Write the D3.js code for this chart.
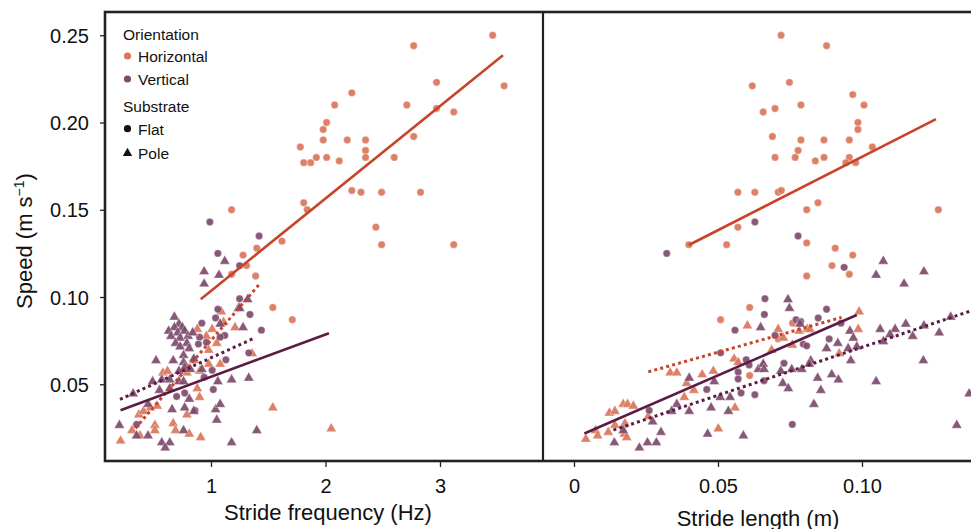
<!DOCTYPE html>
<html><head><meta charset="utf-8">
<script src="https://cdn.jsdelivr.net/npm/d3@7"></script>
<style>body{margin:0;background:#fff}svg{display:block}text{font-family:"Liberation Sans",Arial,Helvetica,sans-serif;fill:#111}</style>
</head><body><svg id="c" width="971" height="529"></svg>
<script>
// ---- tick labels ----
const speedTicks = [0.05, 0.10, 0.15, 0.20, 0.25];
const freqTicks = [1, 2, 3];
const lenTicks = [0, 0.05, 0.10];

// ---- stride frequency (Hz) vs speed ----
const freqHorizFlat = [[3.46,0.250],[2.77,0.244],[2.97,0.223],[3.56,0.221],[2.23,0.217],[2.08,0.210],[2.71,0.210],[2.97,0.208],[3.12,0.206],[2.01,0.200],[1.98,0.196],[1.98,0.190],[2.19,0.190],[2.35,0.190],[2.77,0.192],[1.78,0.186],[2.35,0.184],[1.81,0.177],[1.87,0.177],[1.92,0.180],[2.01,0.180],[2.12,0.178],[2.35,0.180],[2.60,0.180],[1.81,0.154],[1.84,0.150],[2.23,0.161],[2.31,0.160],[2.49,0.160],[2.83,0.160],[2.44,0.140],[2.49,0.130],[3.12,0.130],[1.18,0.150],[1.62,0.132],[1.40,0.128],[1.28,0.124],[1.31,0.118],[1.18,0.113],[1.39,0.112],[1.54,0.094],[1.71,0.087]];
const freqHorizPole = [[1.09,0.092],[1.11,0.086],[1.21,0.083],[0.88,0.082],[0.96,0.078],[1.01,0.082],[1.05,0.074],[0.98,0.070],[1.36,0.068],[1.08,0.062],[0.98,0.062],[0.85,0.064],[0.90,0.058],[0.58,0.057],[0.62,0.058],[0.79,0.057],[0.88,0.048],[0.90,0.043],[0.53,0.038],[0.47,0.037],[0.37,0.033],[0.41,0.035],[0.79,0.033],[0.67,0.028],[0.51,0.027],[0.31,0.024],[0.38,0.021],[0.51,0.024],[0.69,0.024],[0.81,0.022],[0.91,0.020],[0.21,0.018],[1.54,0.037],[2.05,0.025]];
const freqVertFlat = [[0.99,0.143],[1.42,0.135],[1.06,0.125],[1.25,0.118],[1.25,0.099],[1.06,0.093],[1.34,0.090],[1.04,0.088],[0.92,0.085],[1.44,0.081],[0.90,0.077],[0.89,0.073],[0.96,0.074],[1.12,0.078],[1.08,0.077],[1.33,0.068],[1.13,0.064],[1.01,0.058],[0.94,0.054],[1.02,0.047],[0.77,0.045],[0.70,0.043],[0.86,0.035],[0.35,0.027]];
const freqVertPole = [[1.12,0.121],[0.94,0.115],[1.07,0.113],[0.94,0.108],[1.32,0.099],[1.24,0.094],[0.68,0.089],[1.28,0.083],[0.72,0.085],[0.68,0.083],[0.75,0.083],[0.63,0.081],[0.71,0.080],[0.65,0.078],[0.77,0.081],[0.73,0.077],[0.80,0.078],[0.84,0.080],[0.69,0.074],[0.79,0.074],[0.73,0.072],[0.81,0.071],[0.76,0.067],[0.85,0.065],[0.92,0.059],[1.08,0.085],[1.25,0.094],[0.52,0.064],[0.67,0.064],[0.76,0.063],[0.77,0.060],[0.72,0.058],[0.82,0.059],[0.49,0.052],[0.57,0.053],[0.64,0.053],[0.72,0.052],[0.76,0.052],[1.06,0.052],[1.18,0.053],[1.33,0.054],[0.32,0.045],[0.55,0.047],[0.64,0.048],[0.81,0.042],[0.45,0.039],[0.66,0.036],[0.77,0.037],[0.85,0.035],[1.04,0.036],[1.08,0.039],[1.05,0.030],[0.20,0.027],[0.35,0.021],[0.45,0.021],[0.76,0.024],[0.57,0.017],[0.64,0.017],[0.60,0.014],[1.18,0.017],[1.40,0.024]];

// ---- stride length (m) vs speed ----
const lenHorizFlat = [[0.0619,0.221],[0.0657,0.206],[0.0569,0.160],[0.0628,0.160],[0.0569,0.140],[0.0719,0.250],[0.0877,0.244],[0.0748,0.223],[0.0968,0.216],[0.1007,0.210],[0.0698,0.208],[0.0788,0.210],[0.0986,0.200],[0.0986,0.196],[0.0689,0.192],[0.0788,0.190],[0.0868,0.190],[0.0956,0.190],[0.0778,0.184],[0.1036,0.186],[0.0698,0.180],[0.0768,0.180],[0.0868,0.180],[0.0956,0.180],[0.0838,0.178],[0.0944,0.177],[0.0978,0.177],[0.0709,0.160],[0.0720,0.161],[0.0847,0.154],[0.0808,0.150],[0.1265,0.150],[0.0399,0.130],[0.0530,0.130],[0.0808,0.131],[0.0907,0.128],[0.0968,0.124],[0.0896,0.118],[0.0956,0.113],[0.0808,0.112],[0.0610,0.094],[0.0509,0.087],[0.0610,0.055],[0.0709,0.076],[0.0759,0.085]];
const lenHorizPole = [[0.0602,0.084],[0.0556,0.065],[0.0570,0.063],[0.0657,0.062],[0.0334,0.057],[0.0357,0.057],[0.0445,0.056],[0.0484,0.058],[0.0391,0.051],[0.0416,0.047],[0.0559,0.037],[0.0383,0.043],[0.0171,0.039],[0.0186,0.039],[0.0206,0.038],[0.0123,0.034],[0.0142,0.035],[0.0258,0.032],[0.0177,0.028],[0.0075,0.024],[0.0119,0.023],[0.0142,0.027],[0.0082,0.021],[0.0041,0.019],[0.0175,0.022],[0.0183,0.020],[0.0501,0.025],[0.0709,0.082],[0.0727,0.077],[0.0782,0.081],[0.0810,0.082],[0.0819,0.082],[0.0990,0.092],[0.0987,0.082],[0.0758,0.073],[0.0686,0.070],[0.0921,0.068]];
const lenVertFlat = [[0.0628,0.143],[0.0778,0.135],[0.0322,0.125],[0.0938,0.117],[0.0663,0.099],[0.0661,0.090],[0.0559,0.081],[0.0509,0.068],[0.0598,0.064],[0.0608,0.061],[0.0570,0.057],[0.0570,0.053],[0.0461,0.047],[0.0580,0.045],[0.0628,0.044],[0.0261,0.035],[0.0877,0.093],[0.0698,0.078],[0.0771,0.087],[0.0787,0.086],[0.0848,0.088],[0.0927,0.085],[0.0886,0.076],[0.0796,0.073],[0.0808,0.072],[0.0729,0.062],[0.0660,0.052],[0.0758,0.027]];
const lenVertPole = [[0.0648,0.083],[0.0640,0.059],[0.0400,0.054],[0.0487,0.052],[0.0508,0.043],[0.0542,0.043],[0.0476,0.037],[0.0536,0.035],[0.0400,0.035],[0.0357,0.039],[0.0339,0.035],[0.0273,0.029],[0.0171,0.024],[0.0140,0.017],[0.0302,0.023],[0.0227,0.014],[0.0255,0.017],[0.0286,0.017],[0.0464,0.022],[0.0588,0.021],[0.1074,0.121],[0.1049,0.113],[0.1215,0.115],[0.1146,0.108],[0.0743,0.099],[0.0748,0.094],[0.0785,0.085],[0.0958,0.081],[0.0970,0.077],[0.0916,0.074],[0.0877,0.071],[0.0952,0.071],[0.0982,0.072],[0.0961,0.064],[0.0822,0.064],[0.1063,0.082],[0.1115,0.082],[0.1097,0.079],[0.1074,0.075],[0.1152,0.085],[0.1176,0.078],[0.1215,0.084],[0.1268,0.080],[0.1308,0.089],[0.1213,0.064],[0.1049,0.052],[0.0657,0.062],[0.0660,0.059],[0.0718,0.058],[0.0756,0.059],[0.0791,0.059],[0.0817,0.062],[0.0846,0.054],[0.0895,0.056],[0.0918,0.053],[0.0725,0.051],[0.0744,0.048],[0.0857,0.047],[0.0833,0.039],[0.1329,0.027],[0.1372,0.045]];

// ---- fitted lines (endpoints) ----
const freqFits = [
  {orient:"H", sub:"Flat", pts:[[0.91,0.0987],[3.55,0.2385]]},
  {orient:"H", sub:"Pole", pts:[[0.34,0.0248],[1.43,0.1079]]},
  {orient:"V", sub:"Flat", pts:[[0.21,0.0351],[2.03,0.0792]]},
  {orient:"V", sub:"Pole", pts:[[0.205,0.0413],[1.38,0.0765]]}
];
const lenFits = [
  {orient:"H", sub:"Flat", pts:[[0.0399,0.1298],[0.1257,0.2019]]},
  {orient:"H", sub:"Pole", pts:[[0.0258,0.0571],[0.0929,0.0883]]},
  {orient:"V", sub:"Flat", pts:[[0.0036,0.0218],[0.0982,0.0897]]},
  {orient:"V", sub:"Pole", pts:[[0.0137,0.0237],[0.1450,0.0960]]}
];

const legendOrient = ["Horizontal", "Vertical"];
const legendSub = ["Flat", "Pole"];

// ---- styling ----
const ptColor = {H:"#d9765a", V:"#7d4a6c"};
const lineColor = {H:"#c8432a", V:"#5c1b45"};

const svg = d3.select("#c");
const topY = 12, bottomY = 461, leftX = 105, midX = 543, rightX = 990;

const y = d3.scaleLinear().domain([0, 0.25]).range([471.5, 35.25]);
const xF = d3.scaleLinear().domain([1, 3]).range([211, 440]);
const xL = d3.scaleLinear().domain([0, 0.10]).range([574, 862]);

svg.append("clipPath").attr("id","clipL").append("rect")
  .attr("x", leftX).attr("y", topY).attr("width", midX-leftX).attr("height", bottomY-topY);
svg.append("clipPath").attr("id","clipR").append("rect")
  .attr("x", midX).attr("y", topY).attr("width", rightX-midX).attr("height", bottomY-topY);

const tri = d3.symbol().type(d3.symbolTriangle).size(46);

function drawPoints(g, data, xs, orient, sub) {
  if (sub === "Flat") {
    g.selectAll(null).data(data).enter().append("circle")
      .attr("cx", d => xs(d[0])).attr("cy", d => y(d[1])).attr("r", 3.7)
      .attr("fill", ptColor[orient]).attr("fill-opacity", 0.92)
      .attr("stroke", "#fff").attr("stroke-opacity", 0.6).attr("stroke-width", 0.6);
  } else {
    g.selectAll(null).data(data).enter().append("path")
      .attr("d", tri).attr("transform", d => `translate(${xs(d[0])},${y(d[1])+0.8})`)
      .attr("fill", ptColor[orient]).attr("fill-opacity", 0.92)
      .attr("stroke", "#fff").attr("stroke-opacity", 0.6).attr("stroke-width", 0.6);
  }
}
function drawFits(g, fits, xs) {
  const line = d3.line().x(d => xs(d[0])).y(d => y(d[1]));
  fits.forEach(f => {
    g.append("path").attr("d", line(f.pts)).attr("fill","none")
      .attr("stroke", lineColor[f.orient])
      .attr("stroke-width", f.sub === "Flat" ? 2.6 : 3)
      .attr("stroke-dasharray", f.sub === "Flat" ? null : "3,3.2");
  });
}

const gL = svg.append("g").attr("clip-path","url(#clipL)");
drawPoints(gL, freqHorizFlat, xF, "H", "Flat");
drawPoints(gL, freqHorizPole, xF, "H", "Pole");
drawPoints(gL, freqVertFlat, xF, "V", "Flat");
drawPoints(gL, freqVertPole, xF, "V", "Pole");
drawFits(gL, freqFits, xF);

const gR = svg.append("g").attr("clip-path","url(#clipR)");
drawPoints(gR, lenHorizFlat, xL, "H", "Flat");
drawPoints(gR, lenHorizPole, xL, "H", "Pole");
drawPoints(gR, lenVertFlat, xL, "V", "Flat");
drawPoints(gR, lenVertPole, xL, "V", "Pole");
drawFits(gR, lenFits, xL);

// ---- axes ----
const yAxis = d3.axisLeft(y).tickValues(speedTicks).tickFormat(d3.format(".2f")).tickSize(5).tickPadding(11);
const gy = svg.append("g").attr("transform", `translate(${leftX},0)`).call(yAxis);
const xAxF = d3.axisBottom(xF).tickValues(freqTicks).tickFormat(d3.format("d")).tickSize(6).tickPadding(12);
const gxF = svg.append("g").attr("transform", `translate(0,${bottomY})`).call(xAxF);
const xAxL = d3.axisBottom(xL).tickValues(lenTicks).tickFormat(d => d === 0 ? "0" : d3.format(".2f")(d)).tickSize(6).tickPadding(12);
const gxL = svg.append("g").attr("transform", `translate(0,${bottomY})`).call(xAxL);
[gy, gxF, gxL].forEach(g => {
  g.select(".domain").remove();
  g.selectAll(".tick line").attr("stroke", "#222").attr("stroke-width", 1.3);
  g.selectAll(".tick text").style("font-size", "20px").attr("fill", "#111");
});
gy.selectAll(".tick text").attr("dy", "0.36em");

// frame
svg.append("rect").attr("x", leftX).attr("y", topY).attr("width", rightX-leftX).attr("height", bottomY-topY)
  .attr("fill","none").attr("stroke","#222").attr("stroke-width",2.6);
svg.append("line").attr("x1", midX).attr("x2", midX).attr("y1", topY).attr("y2", bottomY)
  .attr("stroke","#222").attr("stroke-width",2.2);

// axis titles
svg.append("text").attr("x", 328).attr("y", 520).attr("text-anchor","middle").style("font-size","22px").text("Stride frequency (Hz)");
svg.append("text").attr("x", 758).attr("y", 526).attr("text-anchor","middle").style("font-size","22px").text("Stride length (m)");
const yt = svg.append("text").attr("transform","translate(32,241) rotate(-90)").attr("text-anchor","middle").style("font-size","22px");
yt.append("tspan").text("Speed (m s");
yt.append("tspan").attr("dy", -8).style("font-size","14px").text("\u22121");
yt.append("tspan").attr("dy", 8).text(")");

// legend
const lg = svg.append("g");
const lfs = "15.5px";
lg.append("text").attr("x", 123).attr("y", 39.5).style("font-size",lfs).attr("fill","#222").text("Orientation");
legendOrient.forEach((t, i) => {
  const yy = 56 + i * 23;
  lg.append("circle").attr("cx", 127.5).attr("cy", yy).attr("r", 3.6).attr("fill", ptColor[i === 0 ? "H" : "V"]);
  lg.append("text").attr("x", 138).attr("y", yy + 6).style("font-size",lfs).attr("fill","#222").text(t);
});
lg.append("text").attr("x", 123).attr("y", 111.5).style("font-size",lfs).attr("fill","#222").text("Substrate");
legendSub.forEach((t, i) => {
  const yy = 128.7 + i * 24;
  if (i === 0) lg.append("circle").attr("cx", 127.5).attr("cy", yy).attr("r", 3.6).attr("fill", "#111");
  else lg.append("path").attr("d", d3.symbol().type(d3.symbolTriangle).size(38)).attr("transform", `translate(127.5,${yy+0.5})`).attr("fill", "#111");
  lg.append("text").attr("x", 138).attr("y", yy + 6).style("font-size",lfs).attr("fill","#222").text(t);
});
</script></body></html>
